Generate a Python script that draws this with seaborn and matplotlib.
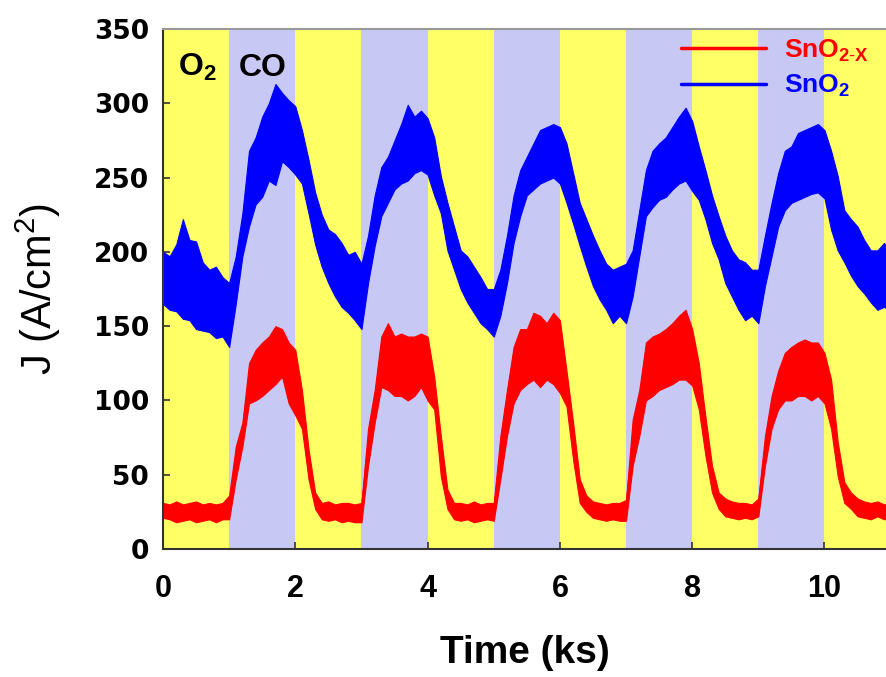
import numpy as np
import pandas as pd
import matplotlib
matplotlib.use("Agg")
import matplotlib.pyplot as plt
import seaborn as sns

# %% Values (time in ks, J in A/cm2)
# each trace is noisy, so it is kept as a lower and an upper envelope
time_ks = [round(0.1 * k, 1) for k in range(111)]

sno2_upper = [
    200, 197, 205, 222, 208, 207, 193, 188, 190, 183,
    179, 197, 226, 268, 277, 291, 300, 313, 307, 302,
    298, 282, 262, 240, 225, 215, 212, 206, 198, 200,
    192, 211, 238, 257, 264, 275, 286, 299, 291, 295,
    290, 277, 251, 233, 217, 201, 197, 190, 183, 175,
    175, 188, 211, 238, 255, 264, 273, 282, 284, 286,
    284, 273, 253, 233, 222, 211, 201, 192, 188, 190,
    192, 201, 228, 255, 268, 273, 277, 284, 291, 297,
    288, 271, 255, 238, 224, 211, 201, 195, 193, 188,
    188, 211, 233, 253, 268, 271, 280, 282, 284, 286,
    282, 268, 251, 228, 222, 217, 208, 201, 201, 206,
    200,
]
sno2_lower = [
    165, 161, 160, 155, 154, 148, 147, 146, 142, 143,
    136, 165, 197, 217, 232, 237, 248, 245, 261, 257,
    252, 246, 226, 205, 190, 179, 170, 163, 159, 154,
    148, 179, 204, 224, 233, 242, 246, 248, 253, 255,
    252, 238, 226, 201, 188, 175, 166, 159, 152, 148,
    143, 157, 179, 206, 224, 238, 242, 246, 248, 250,
    246, 233, 219, 204, 190, 177, 168, 161, 152, 157,
    152, 170, 197, 224, 230, 235, 237, 242, 246, 248,
    241, 235, 222, 206, 195, 179, 170, 161, 154, 157,
    152, 177, 197, 217, 228, 233, 235, 237, 239, 240,
    236, 215, 201, 193, 184, 177, 172, 166, 161, 163,
    160,
]
sno2x_upper = [
    31, 30, 32, 30, 31, 32, 30, 31, 30, 31,
    36, 69, 85, 125, 134, 139, 143, 150, 148, 139,
    134, 107, 67, 38, 31, 32, 30, 31, 31, 30,
    31, 81, 107, 143, 152, 143, 145, 143, 143, 145,
    143, 116, 76, 40, 31, 31, 30, 32, 30, 31,
    31, 76, 107, 136, 148, 148, 159, 157, 152, 159,
    154, 120, 85, 47, 36, 32, 31, 30, 31, 31,
    33, 87, 107, 139, 143, 145, 148, 152, 157, 161,
    148, 125, 89, 56, 38, 34, 32, 31, 31, 30,
    34, 76, 103, 120, 132, 136, 139, 141, 139, 139,
    132, 114, 72, 45, 38, 34, 32, 31, 32, 30,
    31,
]
sno2x_lower = [
    21, 20, 18, 19, 20, 18, 19, 20, 18, 20,
    20, 47, 69, 98, 100, 103, 107, 111, 116, 98,
    90, 81, 47, 27, 20, 19, 20, 18, 19, 18,
    18, 56, 85, 109, 107, 103, 103, 100, 103, 109,
    100, 94, 49, 27, 20, 19, 20, 18, 19, 20,
    19, 47, 76, 98, 107, 111, 114, 109, 114, 111,
    105, 96, 60, 31, 25, 21, 20, 19, 20, 19,
    19, 56, 76, 100, 103, 107, 109, 111, 114, 114,
    110, 94, 63, 38, 27, 22, 21, 20, 21, 20,
    22, 56, 81, 94, 100, 100, 103, 103, 100, 103,
    98, 81, 49, 31, 27, 22, 21, 20, 22, 20,
    21,
]

# gas switching: O2 and CO alternate every ks
switch_times = list(range(12))
gas_sequence = ["O2", "CO"] * 6

series_names = ["SnO2-X", "SnO2"]
series_colors = {"SnO2-X": "#FF0000", "SnO2": "#0000FF"}
gas_colors = {"O2": "#FFFF66", "CO": "#C8C8F5"}

# %% Long table: two observations (envelope edges) per time point
frames = []
for name, low, high in [("SnO2-X", sno2x_lower, sno2x_upper),
                        ("SnO2", sno2_lower, sno2_upper)]:
    for edge in (low, high):
        frames.append(pd.DataFrame({"t": time_ks, "J": edge, "sample": name}))
df = pd.concat(frames, ignore_index=True)

# %% Plot
sns.set_style("ticks")
plt.rcParams["font.family"] = ["Liberation Sans", "DejaVu Sans"]
plt.rcParams["mathtext.fontset"] = "custom"
plt.rcParams["mathtext.rm"] = "Liberation Sans"
plt.rcParams["mathtext.bf"] = "Liberation Sans:bold"
plt.rcParams["text.color"] = "black"
plt.rcParams["axes.labelcolor"] = "black"

fig = plt.figure(figsize=(8.86, 6.77), dpi=100)
ax = fig.add_axes([163 / 886, 1 - 549 / 677, 723 / 886, 520 / 677])

for start, stop, gas in zip(switch_times[:-1], switch_times[1:], gas_sequence):
    ax.axvspan(start, stop, color=gas_colors[gas], lw=0, zorder=0)

sns.lineplot(
    df, x="t", y="J", hue="sample", hue_order=series_names,
    palette=series_colors, estimator="mean", errorbar=("pi", 100),
    err_kws={"alpha": 1, "linewidth": 0.8},
    linewidth=1.5, ax=ax,
)

ax.set_xlim(0, 10.93)
ax.set_ylim(0, 350)
ax.set_xticks([0, 2, 4, 6, 8, 10])
ax.set_yticks(range(0, 351, 50))

ax.tick_params(direction="in", length=5, width=1.2, colors="#333333")
ax.tick_params(axis="y", pad=10)
ax.tick_params(axis="x", pad=18)
for lab in ax.get_yticklabels():
    lab.set_fontfamily(["DejaVu Sans"])
    lab.set_fontweight("bold")
    lab.set_fontsize(19)
    lab.set_color("black")
for lab in ax.get_xticklabels():
    lab.set_fontweight("bold")
    lab.set_fontsize(22)
    lab.set_color("black")

ax.set_xlabel("Time (ks)", fontsize=28, fontweight="bold", labelpad=22)
ax.set_ylabel(r"J (A/cm$^{2}$)", fontsize=30, labelpad=22)

for side in ["left", "bottom"]:
    ax.spines[side].set_color("#333333")
    ax.spines[side].set_linewidth(1.5)
ax.spines["top"].set_color("#999999")
ax.spines["top"].set_linewidth(1.5)
ax.spines["right"].set_visible(False)

ax.text(0.22, 324, r"O$_\mathbf{2}$", fontsize=23, fontweight="bold",
        ha="left", va="center")
ax.text(1.15, 324, "CO", fontsize=23, fontweight="bold",
        ha="left", va="center")

handles, _ = ax.get_legend_handles_labels()
leg = ax.legend(
    handles, [r"SnO$_{\mathbf{2\text{-}X}}$", r"SnO$_\mathbf{2}$"],
    loc="upper right", bbox_to_anchor=(1.01, 1.03), frameon=False,
    prop={"weight": "bold", "size": 19}, handlelength=3.2,
    handletextpad=0.7, labelspacing=0.35,
)
for txt, name in zip(leg.get_texts(), series_names):
    txt.set_color(series_colors[name])
for line in leg.get_lines():
    line.set_linewidth(2.5)

fig.savefig("out.png", dpi=100)
